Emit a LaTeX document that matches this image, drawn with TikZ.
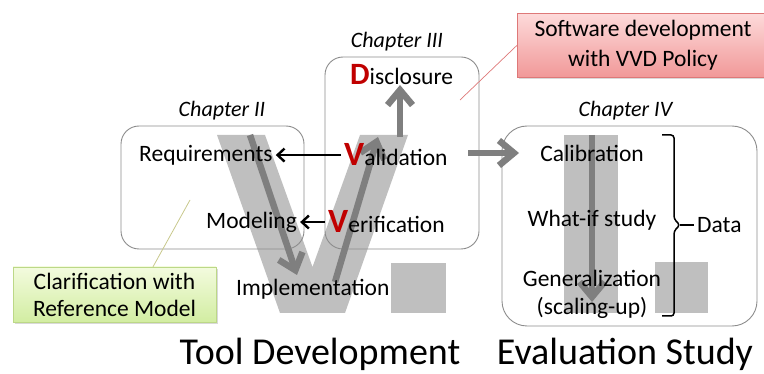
\documentclass[tikz,border=0pt]{standalone}
\usepackage{fontspec}
\setmainfont{Carlito}
\usetikzlibrary{arrows.meta,shadows}
\definecolor{lgray}{RGB}{191,191,191}
\definecolor{dgray}{RGB}{127,127,127}
\definecolor{boxgray}{RGB}{140,140,140}
\definecolor{vred}{RGB}{192,0,0}
\definecolor{pinktop}{RGB}{253,218,218}
\definecolor{pinkbot}{RGB}{241,152,152}
\definecolor{pinkedge}{RGB}{222,120,120}
\definecolor{greentop}{RGB}{243,251,222}
\definecolor{greenbot}{RGB}{210,237,162}
\definecolor{greenedge}{RGB}{188,216,135}
\definecolor{leadgreen}{RGB}{200,200,140}
\newcommand\RedInit[2]{{\fontsize{#1}{#1}\selectfont\bfseries\color{vred}#2}}
\begin{document}
\begin{tikzpicture}[x=1pt,y=-1pt,
  body/.style={font=\fontsize{23.5}{28}\selectfont, inner sep=3pt},
  chap/.style={font=\fontsize{22}{26}\selectfont\itshape, inner sep=2pt},
  big/.style={font=\fontsize{38}{44}\selectfont, inner sep=2pt},
  chapbox/.style={draw=boxgray, line width=0.9pt, rounded corners=18pt},
  garrow/.style={draw=dgray, line width=6.5pt, -{Straight Barb[length=15pt,width=25pt]}},
  barrow/.style={draw=black, line width=2.4pt, -{Straight Barb[length=7pt,width=13pt]}},
  callout/.style={minimum width=#1, align=center, font=\fontsize{23.5}{30}\selectfont, inner sep=0pt},
]
\useasboundingbox (0,0) rectangle (764,374);
% big V. and I. shapes
\fill[lgray] (217,135) -- (265,135) -- (312.5,267) -- (360,135) -- (408,135) -- (345,313) -- (280,313) -- cycle;
\fill[lgray] (391,263) rectangle (446,313);
\fill[lgray] (564,135) rectangle (618,313);
\fill[lgray] (655,262) rectangle (708,313);

% chapter boxes
\node[chapbox, minimum width=183pt, minimum height=123pt] (ch2) at (212.5,187.5) {};
\node[chapbox, minimum width=154pt, minimum height=192pt] (ch3) at (402,153) {};
\node[chapbox, rounded corners=25pt, minimum width=255pt, minimum height=200pt] (ch4) at (629.5,226) {};

\node[chap, anchor=base] (c2) at (222,116.5) {Chapter II};
\node[chap, anchor=base] (c3) at (397,48) {Chapter III};
\node[chap, anchor=base] (c4) at (625.5,116.5) {Chapter IV};

% gray process arrows
\coordinate (a1s) at (250,135);
\coordinate (a1e) at (297,275);
\coordinate (a2s) at (335,282);
\coordinate (a2e) at (378,137);
\coordinate (a3s) at (400,137);
\coordinate (a3e) at (400,85);
\coordinate (a4s) at (468,153);
\coordinate (a4e) at (519,153);
\coordinate (a5s) at (592,135);
\coordinate (a5e) at (592,302);
\draw[garrow] (a1s) -- (a1e);
\draw[garrow] (a2s) -- (a2e);
\draw[garrow] (a3s) -- (a3e);
\draw[garrow] (a4s) -- (a4e);
\draw[garrow] (a5s) -- (a5e);

% texts
\node[body, anchor=base west] (req) at (136,162) {Requirements};
\node[body, anchor=base west] (mod) at (203,229) {Modeling};
\node[body, anchor=base west] (imp) at (233,296) {Implementation};
\node[body, anchor=base west] (dis) at (347,85) {\RedInit{31}{D}isclosure};
\node[body, anchor=base west] (val) at (341,166) {\RedInit{34}{V}alidation};
\node[body, anchor=base west] (ver) at (325,233) {\RedInit{34}{V}erification};
\node[body, anchor=base] (cal) at (592,162) {Calibration};
\node[body, anchor=base] (whatif) at (592,227) {What-if study};
\node[body, anchor=base] (gen) at (592,287) {Generalization};
\node[body, anchor=base] (scal) at (592,315) {(scaling-up)};
\node[body, anchor=base west] (data) at (694,233) {Data};
\node[big, anchor=base] (tool) at (320,365) {Tool Development};
\node[big, anchor=base] (eval) at (625,365) {Evaluation Study};

% black arrows
\draw[barrow] (val.west) -- (val.west -| req.east);
\draw[barrow] (ver.west) -- (ver.west -| mod.east);

% brace
\coordinate (btip) at (680,225);
\draw[line width=1.5pt, rounded corners=3pt] (662,135) -- (674,135) -- (674,219) -- (btip) -- (674,231) -- (674,316) -- (662,316);
\draw[line width=1.5pt] (btip) -- (data.west |- btip);

% callouts
\node[callout=252pt, minimum height=64pt, draw=pinkedge, top color=pinktop, bottom color=pinkbot,
  drop shadow={opacity=0.3, shadow xshift=2pt, shadow yshift=-2pt}] (pink) at (643,45.5)
  {Software development\\with VVD Policy};
\coordinate (pinkend) at (460,100);
\draw[pinkedge, line width=0.7pt] (pink.west) -- (pinkend);

\node[callout=203pt, minimum height=55pt, draw=greenedge, top color=greentop, bottom color=greenbot,
  font=\fontsize{23.5}{27}\selectfont,
  drop shadow={opacity=0.3, shadow xshift=2pt, shadow yshift=-2pt}] (green) at (114.5,294.5)
  {Clarification with\\Reference Model};
\coordinate (greenend) at (190,200);
\draw[leadgreen, line width=0.8pt] ([xshift=38.5pt]green.north) -- (greenend);
\end{tikzpicture}
\end{document}
